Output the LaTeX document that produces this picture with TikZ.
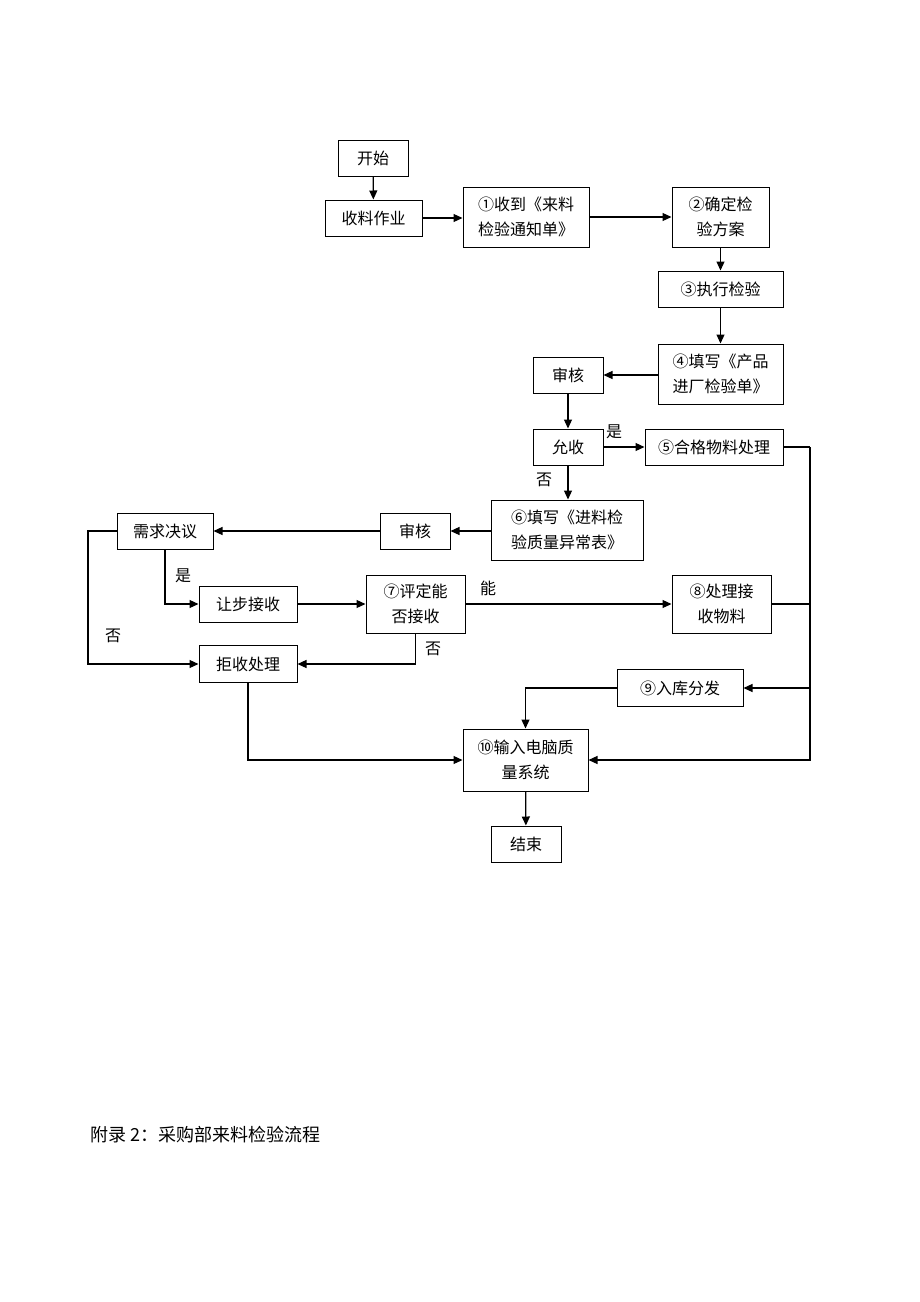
\documentclass[tikz,border=0pt]{standalone}
\usepackage{fontspec}
\setmainfont{Noto Sans CJK SC}
\usetikzlibrary{arrows.meta, positioning}

\begin{document}
\begin{tikzpicture}[
    x=1pt, y=-1pt,
    flow/.style={
        line width=1.2pt,
        -{Triangle[length=9pt, width=8pt]},
    },
    link/.style={
        line width=1.2pt,
    },
    box/.style={
        draw,
        line width=1pt,
        minimum height=36pt,
        inner sep=0pt,
        align=center,
        font=\fontsize{16}{25}\selectfont,
    },
    tag/.style={
        font=\fontsize{16}{18}\selectfont,
        inner sep=0pt,
    }
]
    \useasboundingbox (0,0) rectangle (920,1302);

    % Steps
    \node[box, minimum width=70pt] (start) at (373,158) {开始};
    \node[box, minimum width=97pt] (receive) at (373.5,218) {收料作业};
    \node[box, minimum width=126pt, minimum height=60pt] (notice) at (526,217) {①收到《来料\\检验通知单》};
    \node[box, minimum width=97pt, minimum height=60pt] (plan) at (720.5,217) {②确定检\\验方案};
    \node[box, minimum width=125pt] (exec) at (720.5,289) {③执行检验};
    \node[box, minimum width=125pt, minimum height=60pt] (record) at (720.5,374) {④填写《产品\\进厂检验单》};
    \node[box, minimum width=70pt] (review1) at (568,375) {审核};
    \node[box, minimum width=70pt] (accept) at (568,447) {允收};
    \node[box, minimum width=138pt] (good) at (714,447) {⑤合格物料处理};
    \node[box, minimum width=152pt, minimum height=60pt] (abnormal) at (567,530) {⑥填写《进料检\\验质量异常表》};
    \node[box, minimum width=70pt] (review2) at (415,531) {审核};
    \node[box, minimum width=96pt] (decide) at (165,531) {需求决议};
    \node[box, minimum width=98pt] (concede) at (248,604) {让步接收};
    \node[box, minimum width=99pt, minimum height=58pt] (judge) at (415.5,604) {⑦评定能\\否接收};
    \node[box, minimum width=99pt, minimum height=58pt] (handle) at (721.5,604) {⑧处理接\\收物料};
    \node[box, minimum width=98pt, minimum height=37pt] (reject) at (248,664) {拒收处理};
    \node[box, minimum width=126pt, minimum height=37pt] (store) at (680,688) {⑨入库分发};
    \node[box, minimum width=125pt, minimum height=62pt] (system) at (525.5,760) {⑩输入电脑质\\量系统};
    \node[box, minimum width=70pt] (finish) at (526,844) {结束};

    % Branch labels
    \node[tag] (yes1) at (614,432) {是};
    \node[tag] (no1) at (544,480) {否};
    \node[tag] (yes2) at (183,576) {是};
    \node[tag] (no2) at (113,636) {否};
    \node[tag] (can) at (488,588) {能};
    \node[tag] (no3) at (433,649) {否};

    % Bends
    \coordinate (leftbus) at (88,531);
    \coordinate (rightbus) at (810,447);

    % Connectors
    \draw[flow] (start) -- (receive);
    \draw[flow] (receive) -- (notice.west |- receive);
    \draw[flow] (notice) -- (plan);
    \draw[flow] (plan) -- (exec);
    \draw[flow] (exec) -- (record);
    \draw[flow] (record.west |- review1) -- (review1);
    \draw[flow] (review1) -- (accept);
    \draw[flow] (accept) -- (good);
    \draw[flow] (accept.south) -- (accept.south |- abnormal.north);
    \draw[flow] (abnormal.west |- review2) -- (review2);
    \draw[flow] (review2) -- (decide);
    \draw[flow] (decide.south) |- (concede);
    \draw[flow] (decide.west) -- (leftbus) |- (reject);
    \draw[flow] (concede) -- (judge);
    \draw[flow] (judge) -- (handle);
    \draw[flow] (judge.south) |- (reject.east);
    \draw[flow] (reject.south) |- (system.west);
    \draw[link] (good.east) -- (rightbus);
    \draw[flow] (rightbus) |- (system.east);
    \draw[link] (handle.east) -- (handle.east -| rightbus);
    \draw[flow] (rightbus |- store.east) -- (store.east);
    \draw[flow] (store.west) -| (system.north);
    \draw[flow] (system) -- (finish);

    % Caption
    \node[anchor=west, inner sep=0pt, font=\fontsize{18}{20}\selectfont] (caption) at (90,1135) {附录 2：采购部来料检验流程};
\end{tikzpicture}
\end{document}
